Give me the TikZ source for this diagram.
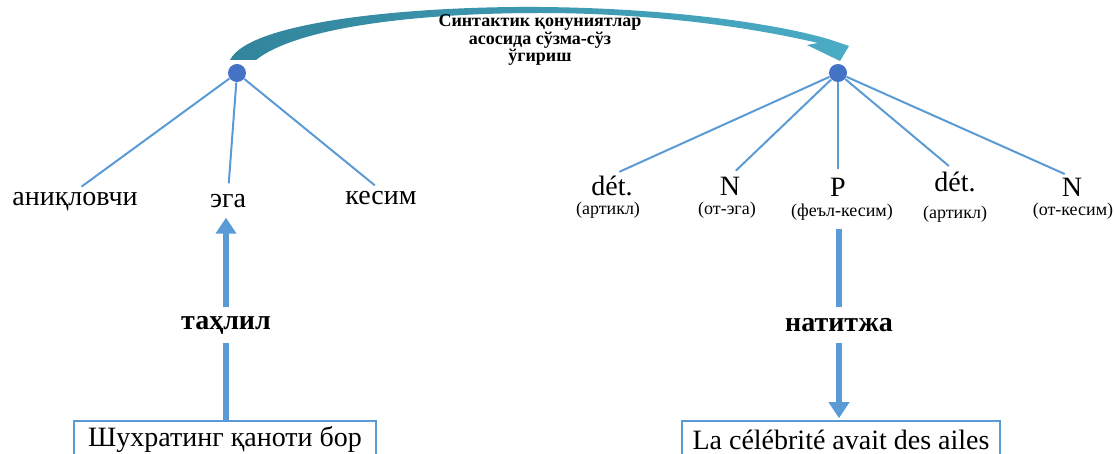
\documentclass[tikz,border=0pt]{standalone}
\usepackage{fontspec}
\setmainfont{Liberation Serif}
\usetikzlibrary{arrows.meta,positioning}
\definecolor{treeblue}{HTML}{5B9BD5}
\definecolor{dotblue}{HTML}{4472C4}
\definecolor{arcdark}{HTML}{31849B}
\definecolor{arclight}{HTML}{4BACC6}

\begin{document}
\begin{tikzpicture}[x=0.5pt,y=-0.5pt,
	root/.style={circle,fill=dotblue,inner sep=0pt,minimum size=9pt},
	edge/.style={draw=treeblue,line width=1pt},
	word/.style={anchor=base,inner sep=0.5pt,font=\fontsize{14}{16}\selectfont},
	gloss/.style={anchor=base,inner sep=0pt,font=\fontsize{9}{10}\selectfont},
	stage/.style={inner sep=0pt,minimum height=18pt,font=\bfseries\fontsize{14}{15}\selectfont},
	flow/.style={draw=treeblue,line width=3pt},
	sentence/.style={draw=treeblue,line width=0.8pt,minimum height=19pt,inner sep=1pt,font=\fontsize{14}{16}\selectfont}]
	\clip (0,0) rectangle (1115,454);
	% curved arrow on top
	\shade[left color=arcdark,right color=arclight]
		(230,60) .. controls (250,20) and (420,6) .. (540,7)
		.. controls (660,8) and (770,22) .. (828,39)
		-- (849,46) -- (840,61) -- (807,45) -- (818,43)
		.. controls (750,27) and (650,13) .. (540,13)
		.. controls (430,13) and (300,25) .. (256,60) -- cycle;
	\node (method) at (540,40) [align=center,font=\bfseries\fontsize{9}{8.9}\selectfont] {Синтактик қонуниятлар\\асосида сўзма-сўз\\ўгириш};
	% source tree
	\node (lroot) at (237,73) [root] {};
	\node (attr) at (75,206) [word] {аниқловчи};
	\node (ega) at (228,208) [word] {эга};
	\node (pred) at (381,205) [word] {кесим};
	\draw[edge,shorten >=4pt] (lroot) -- (attr.north);
	\draw[edge,shorten >=5pt] (lroot) -- (ega.north);
	\draw[edge,shorten >=4pt] (lroot) -- (pred.north);
	% target tree
	\node (rroot) at (838,73) [root] {};
	\node (det1) at (612,196) [word] {dét.};
	\node (n1) at (730,196) [word] {N};
	\node (p) at (838,197) [word] {P};
	\node (det2) at (955,192) [word] {dét.};
	\node (n2) at (1072,197) [word] {N};
	\node (g1) at (608,215) [gloss] {(артикл)};
	\node (g2) at (727,215) [gloss] {(от-эга)};
	\node (g3) at (842,217) [gloss] {(феъл-кесим)};
	\node (g4) at (955,219) [gloss] {(артикл)};
	\node (g5) at (1073,216) [gloss] {(от-кесим)};
	\foreach \w in {det1,n1,p,det2,n2}
		\draw[edge,shorten >=4pt] (rroot) -- (\w.north);
	% sentences
	\node (lbox) at (225,440) [sentence,minimum width=151pt] {Шухратинг қаноти бор};
	\node (rbox) at (841,440) [sentence,minimum width=159pt] {La célébrité avait des ailes};
	\node (taxlil) at (226,325) [stage] {таҳлил};
	\node (natija) at (839,325) [stage] {натитжа};
	\draw[flow] (lbox.north -| taxlil.south) -- (taxlil.south);
	\draw[flow,-{Triangle[width=10pt,length=8pt]},shorten >=4pt] (taxlil.north) -- (taxlil.north |- ega.south);
	\draw[flow,shorten <=4pt] (natija.north |- g3.south) -- (natija.north);
	\draw[flow,-{Triangle[width=10pt,length=8pt]},shorten >=1pt] (natija.south) -- (natija.south |- rbox.north);
\end{tikzpicture}
\end{document}
